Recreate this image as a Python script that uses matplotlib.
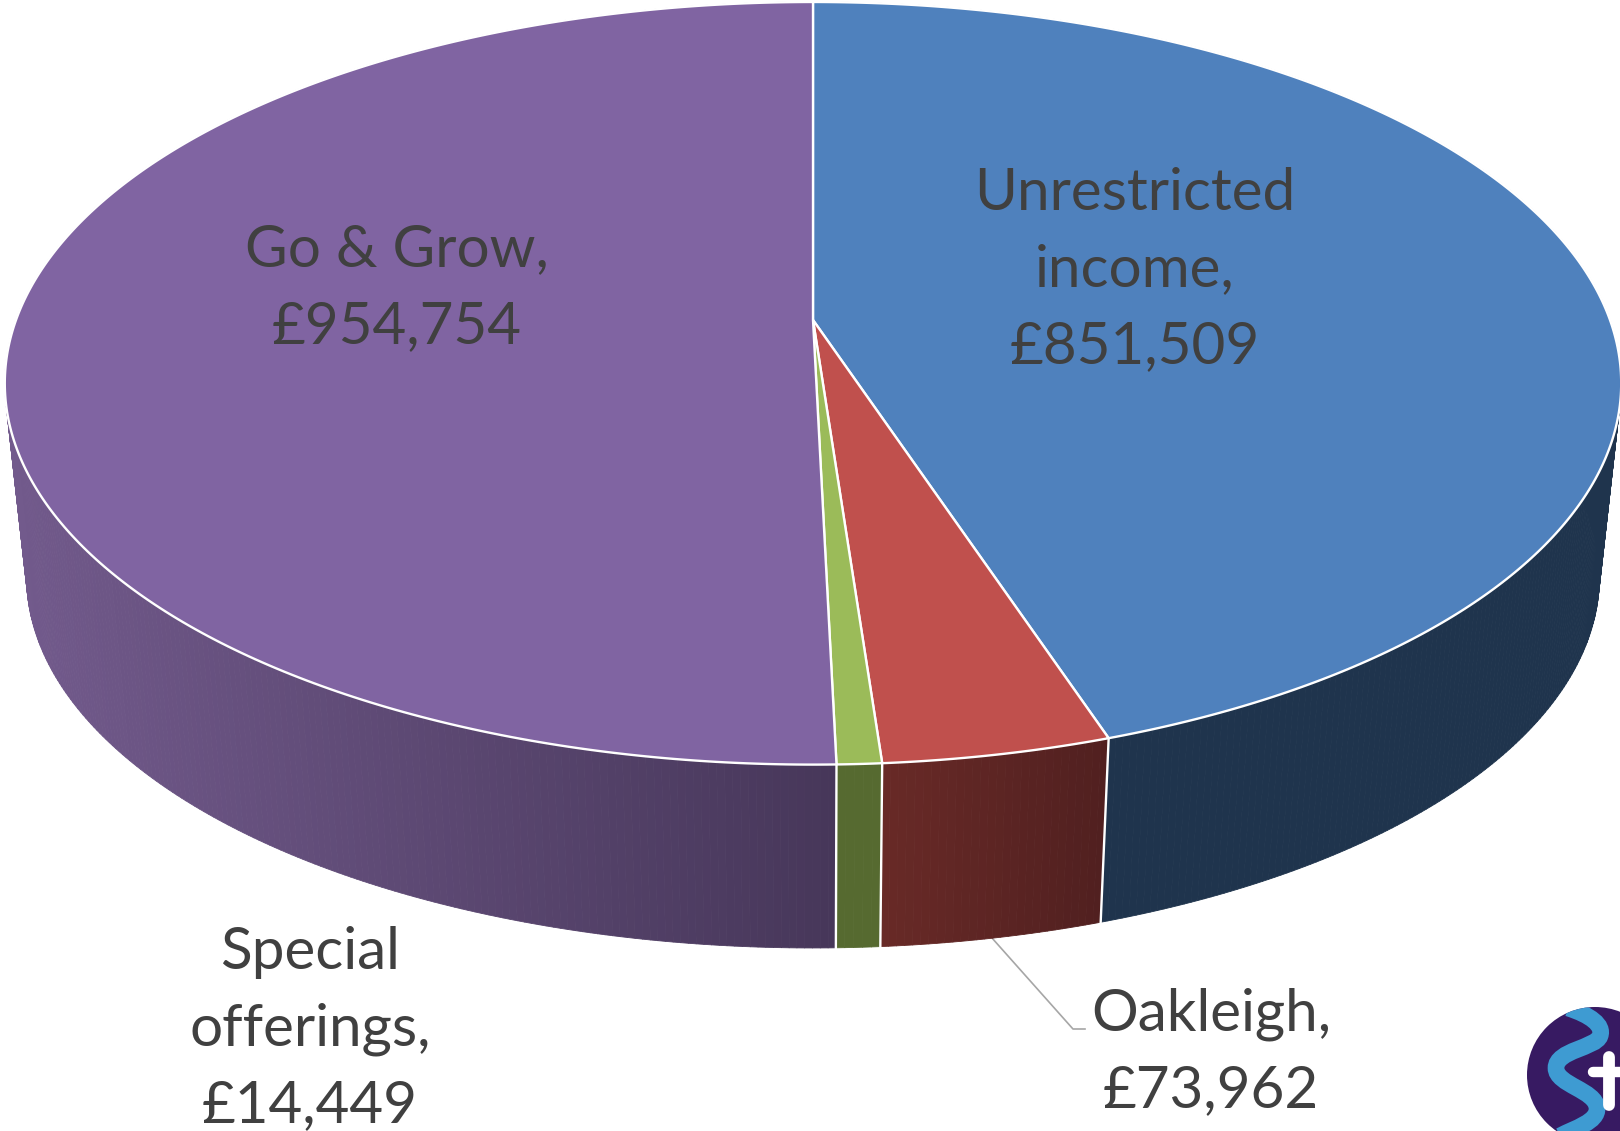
import numpy as np
import matplotlib
matplotlib.use('Agg')
import matplotlib.pyplot as plt
from matplotlib.collections import PolyCollection
from matplotlib.colors import to_rgb
from matplotlib.patches import Circle, PathPatch
from matplotlib.path import Path

categories = ['Unrestricted income', 'Oakleigh', 'Special offerings', 'Go & Grow']
values = [851509, 73962, 14449, 954754]
top_colors = ['#4F81BD', '#C0504D', '#9BBB59', '#8064A2']
side_left = ['#1F344D', '#692A27', '#566A30', '#725A8C']
side_right = ['#1F344D', '#512020', '#566A30', '#47375A']
labels = ['Unrestricted\nincome,\n£851,509', 'Oakleigh,\n£73,962',
          'Special\nofferings,\n£14,449', 'Go & Grow,\n£954,754']
label_x = [1135, 1211, 310, 397]
label_y = [270, 1052, 1029, 288]

# perspective of the pie, pixels of the 1620x1131 picture
cx, cy = 813, 320
a, b, k = 797, 370.8, 0.166
s, t = 0.973, 204


def top_xy(theta):
    # theta clockwise from 12 o'clock
    d = 1 + k * np.cos(theta)
    return cx + a * np.sin(theta) / d, cy - b * np.cos(theta) / d


def bottom_xy(theta):
    x, y = top_xy(theta)
    return cx + s * (x - cx), s * y + t


fig = plt.figure(figsize=(16.2, 11.31), dpi=100)
ax = fig.add_axes([0, 0, 1, 1])
ax.set_xlim(0, 1620)
ax.set_ylim(1131, 0)
ax.axis('off')

edges = np.cumsum([0] + values) / sum(values) * 2 * np.pi

# sides first, the top covers the part at the back
for i in range(len(values)):
    th = np.linspace(edges[i], edges[i + 1], max(int((edges[i + 1] - edges[i]) * 120), 6))
    x0, y0 = top_xy(th)
    x1, y1 = bottom_xy(th)
    polys = []
    cols = []
    c_left = np.array(to_rgb(side_left[i]))
    c_right = np.array(to_rgb(side_right[i]))
    for j in range(len(th) - 1):
        polys.append([(x0[j], y0[j]), (x0[j + 1], y0[j + 1]), (x1[j + 1], y1[j + 1]), (x1[j], y1[j])])
        f = (x0[j] - x0.min()) / (x0.max() - x0.min())
        cols.append(c_left + (c_right - c_left) * f)
    ax.add_collection(PolyCollection(polys, facecolors=cols, edgecolors=cols, linewidths=0.6, zorder=2))

for e in edges[1:-1]:
    x0, y0 = top_xy(e)
    x1, y1 = bottom_xy(e)
    ax.plot([x0, x1], [y0, y1], color='white', lw=1.7, zorder=3)

# top of the pie
for i in range(len(values)):
    th = np.linspace(edges[i], edges[i + 1], 300)
    x0, y0 = top_xy(th)
    ax.fill(np.r_[cx, x0], np.r_[cy, y0], facecolor=top_colors[i], edgecolor='white', lw=1.7,
            joinstyle='round', zorder=4)

# labels
for i in range(len(labels)):
    ax.text(label_x[i], label_y[i], labels[i], family='Lato', fontsize=42, color='#404040',
            ha='center', va='center', linespacing=1.54, zorder=6)

# leader line for Oakleigh
ax.plot([992, 1073, 1085], [938, 1029, 1029], color='#A6A6A6', lw=1.2, zorder=1)

# logo in the corner
logo = Circle((1595, 1075), 68, facecolor='#371A62', edgecolor='none', zorder=5)
ax.add_patch(logo)
verts = [(1568, 1008), (1590, 1015), (1604, 1025), (1600, 1036),
         (1596, 1048), (1556, 1050), (1556, 1068),
         (1556, 1085), (1596, 1090), (1597, 1108),
         (1598, 1122), (1575, 1128), (1560, 1136)]
codes = [Path.MOVETO] + [Path.CURVE4] * 12
swoosh = PathPatch(Path(verts, codes), facecolor='none', edgecolor='#3E9BD2', lw=12, capstyle='butt', zorder=5.1)
ax.add_patch(swoosh)
swoosh.set_clip_path(logo)
ax.plot([1609, 1609], [1057, 1105], color='white', lw=8.5, solid_capstyle='round', zorder=5.2)
ax.plot([1593, 1630], [1072, 1072], color='white', lw=7.5, solid_capstyle='round', zorder=5.2)

fig.savefig('out.png', dpi=100, facecolor='white')
